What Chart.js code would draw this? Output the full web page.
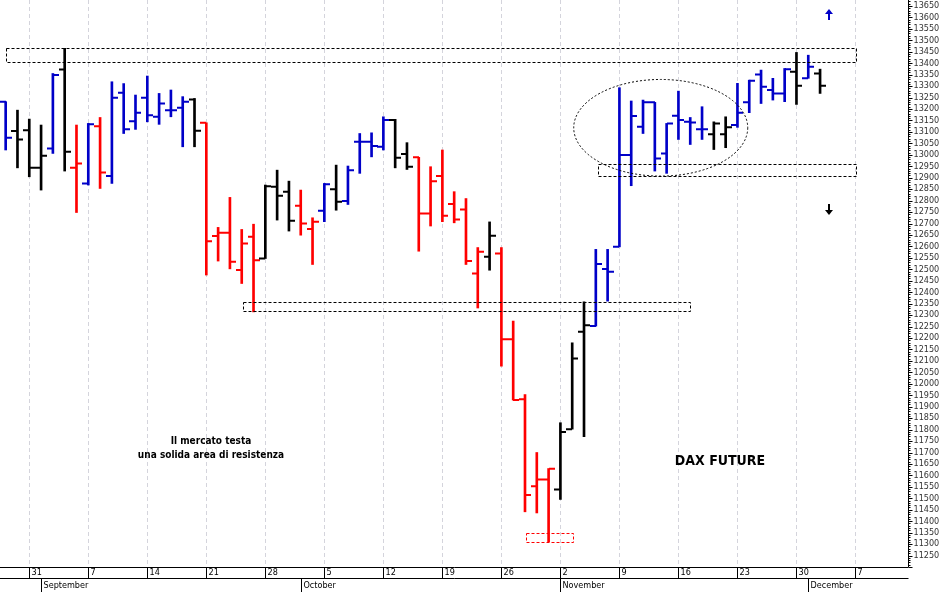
<!DOCTYPE html>
<html><head><meta charset="utf-8">
<script src="https://cdn.jsdelivr.net/npm/chart.js@4"></script>
<style>html,body{margin:0;padding:0;background:#fff}#w{width:941px;height:592px}</style>
</head><body><div id="w"><canvas id="c"></canvas></div>
<script>
const opens  = [13232,13104,13107,12943,13028,13373,12943,12875,13125,12907,13271,13147,13249,13166,13195,13205,13242,13140,12645,12660,12497,12642,12547,12860,12839,12777,12676,12756,12850,12798,13057,13057,13035,13152,13003,12989,12744,12907,12785,12761,12482,12555,12569,12195,11932,11553,11582,11538,11802,12227,12252,12501,12598,12999,13122,13229,13006,13171,13144,13112,13090,13090,13130,13229,13351,13283,13268,13363,13334,13355];
const highs  = [13232,13195,13156,13130,13355,13465,13130,13137,13163,13319,13311,13261,13344,13268,13283,13254,13246,13140,12683,12814,12674,12697,12868,12933,12885,12846,12725,12875,12955,12951,13093,13096,13166,13155,13053,12989,12948,13021,12839,12809,12595,12707,12595,12274,11953,11700,11630,11830,12179,12358,12587,12587,13293,13235,13239,13229,13137,13278,13163,13210,13144,13166,13312,13326,13370,13334,13377,13447,13435,13374];
const lows   = [13021,12943,12904,12846,13006,12929,12748,12868,12853,12875,13093,13111,13144,13133,13166,13035,13035,12475,12536,12502,12438,12314,12547,12715,12667,12649,12521,12708,12758,12783,12919,12991,13021,12943,12936,12579,12689,12708,12703,12521,12331,12496,12077,11929,11441,11436,11310,11495,11802,11769,12252,12361,12598,12865,13093,12929,12919,13067,13045,13067,13023,13031,13120,13184,13224,13239,13232,13220,13334,13268];
const closes = [13074,13067,12943,12996,13348,13013,12962,13133,12923,13249,13112,13184,13173,13224,13195,13232,13105,12623,12660,12533,12613,12540,12863,12821,12712,12700,12708,12871,12795,12933,13057,13038,13152,12987,12948,12744,12885,12734,12718,12536,12577,12646,12195,11929,11514,11582,11629,11790,12111,12256,12523,12489,12999,13169,13229,12984,13137,13152,13141,13112,13137,13120,13184,13323,13297,13268,13374,13302,13385,13302];
const kinds  = "BKKKBKRBRBBBBBBBKRRRRRKKKRRBKBBBBKKRRRRRRKRRRRRKKKBBBBBBBBBBKKBBBBBKBK".split("");
const weekLabels = ["31","7","14","21","28","5","12","19","26","2","9","16","23","30","7"];
const weekIdx = [2,7,12,17,22,27,32,37,42,47,52,57,62,67,72];
const monthLabels = ["September","October","November","December"];
const monthIdx = [3,25,47,68];
const yLabels = [];
for (let v=13650; v>=11250; v-=50) yLabels.push(v);
const zones = [ {x0:0.0,x1:72.05,y0:13403,y1:13465,c:'#000'}, {x0:50.2,x1:72.05,y0:12907,y1:12959,c:'#000'},
  {x0:20.1,x1:57.99,y0:12317,y1:12358,c:'#000'}, {x0:44.1,x1:48.05,y0:11308,y1:11347,c:'#f00'} ];
const colorOf = {B:'#0000c8',K:'#000000',R:'#ff0000'};

const ohlc = {
  id:'ohlc',
  beforeDatasetsDraw(ch){
    const c=ch.ctx, x=ch.scales.x, B=ch.chartArea.bottom;
    c.save(); c.strokeStyle='#d4d4dc'; c.lineWidth=1; c.setLineDash([4,3]);
    for(const d of weekIdx){const px=Math.round(x.getPixelForValue(d))+0.5; c.beginPath(); c.moveTo(px,0); c.lineTo(px,B); c.stroke();}
    c.restore();
  },
  afterDatasetsDraw(ch){
    const c=ch.ctx, x=ch.scales.x, y=ch.scales.y;
    c.save(); c.lineWidth=2;
    for(let i=0;i<opens.length;i++){
      const px=Math.round(x.getPixelForValue(i));
      c.strokeStyle=colorOf[kinds[i]];
      c.beginPath();
      c.moveTo(px-6,y.getPixelForValue(opens[i])); c.lineTo(px,y.getPixelForValue(opens[i]));
      c.moveTo(px,y.getPixelForValue(closes[i])); c.lineTo(px+6,y.getPixelForValue(closes[i]));
      c.stroke();
    }
    c.lineWidth=1; c.setLineDash([3,2]);
    for(const z of zones){
      const a=x.getPixelForValue(z.x0), b=x.getPixelForValue(z.x1), t=y.getPixelForValue(z.y1), u=y.getPixelForValue(z.y0);
      c.strokeStyle=z.c; c.strokeRect(Math.round(a)+0.5,Math.round(t)+0.5,Math.round(b-a),Math.round(u-t));
    }
    c.strokeStyle='#000'; c.setLineDash([2,2]);
    const ex=x.getPixelForValue(55.5), ey=y.getPixelForValue(13118), rx=87, ry=y.getPixelForValue(12907)-ey;
    c.beginPath(); c.ellipse(ex,ey,rx,ry,0,0,Math.PI*2); c.stroke();
    c.setLineDash([]);
    const arrow=(ax,ay,up,col)=>{c.fillStyle=col;c.strokeStyle=col;c.lineWidth=2;c.beginPath();
      if(up){c.moveTo(ax,ay+6);c.lineTo(ax,ay-1);}else{c.moveTo(ax,ay-6);c.lineTo(ax,ay+1);}c.stroke();
      c.beginPath(); if(up){c.moveTo(ax-4,ay);c.lineTo(ax+4,ay);c.lineTo(ax,ay-5);}else{c.moveTo(ax-4,ay);c.lineTo(ax+4,ay);c.lineTo(ax,ay+5);} c.fill();};
    arrow(829,14,true,'#0000c8'); arrow(829,210,false,'#000');
    c.fillStyle='#000'; c.textAlign='center'; c.textBaseline='middle';
    c.font='bold 10px "Liberation Sans Narrow", "DejaVu Sans Condensed", sans-serif';
    c.fillText('Il mercato testa',211,441); c.fillText('una solida area di resistenza',211,455);
    c.font='bold 14px "Liberation Sans Narrow", "DejaVu Sans Condensed", sans-serif';
    c.fillText('DAX FUTURE',720,461);
    const R=ch.chartArea.right+0.5, B=ch.chartArea.bottom;
    c.strokeStyle='#000'; c.lineWidth=1;
    c.beginPath(); c.moveTo(R,0); c.lineTo(R,B); c.stroke();
    c.beginPath();
    for(let v=11200; v<=13670; v+=10){const py=Math.round(y.getPixelForValue(v))+0.5; c.moveTo(R,py); c.lineTo(R+(v%50===0?4:2),py);}
    c.stroke();
    c.font='9px "Liberation Sans Narrow", "DejaVu Sans Condensed", sans-serif'; c.textAlign='left'; c.fillStyle='#333';
    for(const v of yLabels) c.fillText(String(v),R+5,y.getPixelForValue(v));
    c.strokeStyle='#000';
    c.beginPath(); c.moveTo(0,B+0.5); c.lineTo(R,B+0.5); c.moveTo(0,B+11.5); c.lineTo(R,B+11.5); c.stroke();
    c.fillStyle='#000';
    weekIdx.forEach((d,k)=>{const px=Math.round(x.getPixelForValue(d))+0.5; c.beginPath(); c.moveTo(px,B);c.lineTo(px,B+11);c.stroke(); c.fillText(weekLabels[k],px+2,B+6);});
    monthIdx.forEach((d,k)=>{const px=Math.round(x.getPixelForValue(d))+0.5; c.beginPath(); c.moveTo(px,B+11);c.lineTo(px,B+25);c.stroke(); c.fillText(monthLabels[k],px+2,B+19);});
    c.restore();
  }
};

new Chart(document.getElementById('c'),{
  type:'bar',
  data:{datasets:[{data:opens.map((o,i)=>({x:i,y:[lows[i],highs[i]]})),
    backgroundColor:kinds.map(k=>colorOf[k]),barThickness:2,borderWidth:0}]},
  options:{responsive:true,maintainAspectRatio:false,animation:false,
    layout:{padding:{left:0,top:0,right:33,bottom:25}},
    plugins:{legend:{display:false},tooltip:{enabled:false}},
    scales:{
      x:{type:'linear',display:false,min:-0.48,max:76.45,offset:false},
      y:{display:false,min:11200,max:13676}
    }},
  plugins:[ohlc]
});
</script></body></html>
